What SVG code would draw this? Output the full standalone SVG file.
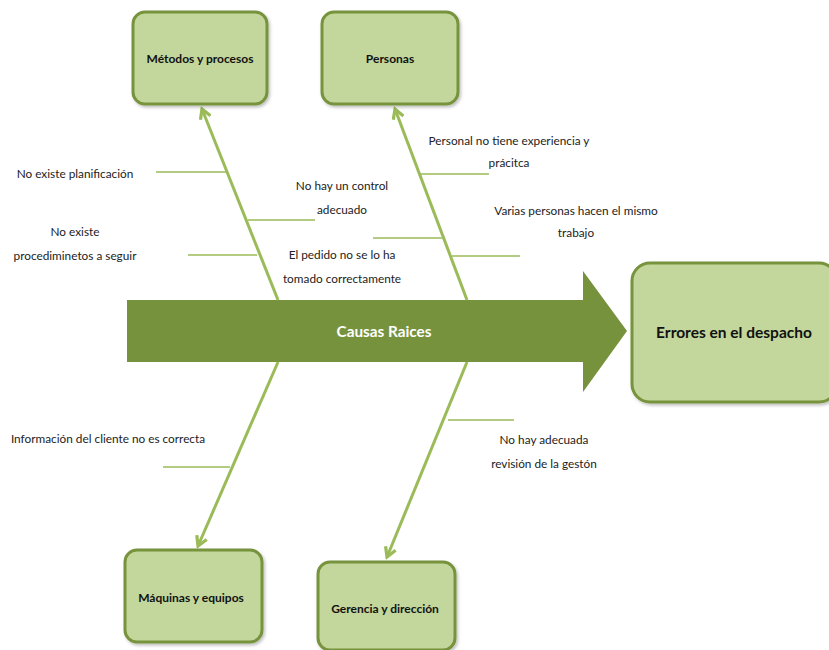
<svg xmlns="http://www.w3.org/2000/svg" width="829" height="650" viewBox="0 0 829 650">
<style>
.box{fill:#C3D69B;stroke:#77933C;stroke-width:3}
.lbl{font-family:Lato,"Liberation Sans",sans-serif;font-size:12px;font-weight:bold;fill:#111;text-anchor:middle}
.t{font-family:Lato,"Liberation Sans",sans-serif;font-size:11.8px;fill:#222;text-anchor:middle}
.bone{stroke:#9BBB59;stroke-width:3;fill:none}
.br{stroke:#9BBB59;stroke-width:1.5;fill:none}
</style>
<defs>
<filter id="sh" x="-10%" y="-10%" width="130%" height="130%">
<feDropShadow dx="1.5" dy="2" stdDeviation="1.5" flood-color="#000" flood-opacity="0.25"/>
</filter>
<marker id="ah" viewBox="0 0 10 10" refX="8" refY="5" markerWidth="4.5" markerHeight="4.5" orient="auto" markerUnits="strokeWidth">
<path d="M1,1 L8,5 L1,9" fill="none" stroke="#9BBB59" stroke-width="2.4"/>
</marker>
</defs>
<rect width="829" height="650" fill="#fff"/>

<g id="spine">
<path d="M127,300 L583,300 L583,271 L627,331 L583,392 L583,362 L127,362 Z" fill="#76923C"/>
<text x="384" y="337" font-family="Lato,'Liberation Sans',sans-serif" font-size="15.3" font-weight="bold" fill="#fff" text-anchor="middle">Causas Raices</text>
</g>

<g id="connectors">
<line class="bone" x1="278" y1="300" x2="202" y2="109" marker-end="url(#ah)"/>
<line class="bone" x1="467" y1="300" x2="395" y2="109" marker-end="url(#ah)"/>
<line class="bone" x1="278" y1="362" x2="198" y2="546" marker-end="url(#ah)"/>
<line class="bone" x1="467" y1="362" x2="387" y2="557" marker-end="url(#ah)"/>
<line class="br" x1="156" y1="172" x2="226" y2="172"/>
<line class="br" x1="248" y1="220" x2="315" y2="220"/>
<line class="br" x1="188" y1="255" x2="257" y2="255"/>
<line class="br" x1="420" y1="174" x2="489" y2="174"/>
<line class="br" x1="373" y1="238" x2="442" y2="238"/>
<line class="br" x1="452" y1="256" x2="520" y2="256"/>
<line class="br" x1="163" y1="467" x2="230" y2="467"/>
<line class="br" x1="448" y1="420" x2="514" y2="420"/>
</g>

<g id="metodos">
<rect class="box" x="133" y="12" width="134" height="92" rx="12" filter="url(#sh)"/>
<text class="lbl" x="200" y="63">Métodos  y procesos</text>
</g>
<g id="personas">
<rect class="box" x="322" y="12" width="136" height="92" rx="12" filter="url(#sh)"/>
<text class="lbl" x="390" y="63">Personas</text>
</g>
<g id="maquinas">
<rect class="box" x="125" y="550" width="137" height="92" rx="12" filter="url(#sh)"/>
<text class="lbl" x="191" y="602">Máquinas y equipos</text>
</g>
<g id="gerencia">
<rect class="box" x="318" y="562" width="137" height="88" rx="12" filter="url(#sh)"/>
<text class="lbl" x="385" y="613">Gerencia y dirección</text>
</g>
<g id="errores">
<rect class="box" x="632" y="263" width="205" height="139" rx="18" filter="url(#sh)"/>
<text x="734" y="338" font-family="Lato,'Liberation Sans',sans-serif" font-size="15.5" font-weight="bold" fill="#111" text-anchor="middle">Errores en el despacho</text>
</g>

<g id="causes">
<text class="t" x="75" y="178">No existe planificación</text>
<text class="t" x="342" y="190">No hay un control</text>
<text class="t" x="342" y="214">adecuado</text>
<text class="t" x="75" y="236">No existe</text>
<text class="t" x="75" y="260">procediminetos a seguir</text>
<text class="t" x="342" y="259">El pedido no se lo ha</text>
<text class="t" x="342" y="283">tomado correctamente</text>
<text class="t" x="509" y="145">Personal no tiene experiencia y</text>
<text class="t" x="509" y="167">prácitca</text>
<text class="t" x="576" y="215">Varias personas hacen el mismo</text>
<text class="t" x="576" y="237">trabajo</text>
<text class="t" x="108" y="443">Información del cliente no es correcta</text>
<text class="t" x="544" y="444">No hay adecuada</text>
<text class="t" x="544" y="468">revisión de la gestón</text>
</g>
</svg>
